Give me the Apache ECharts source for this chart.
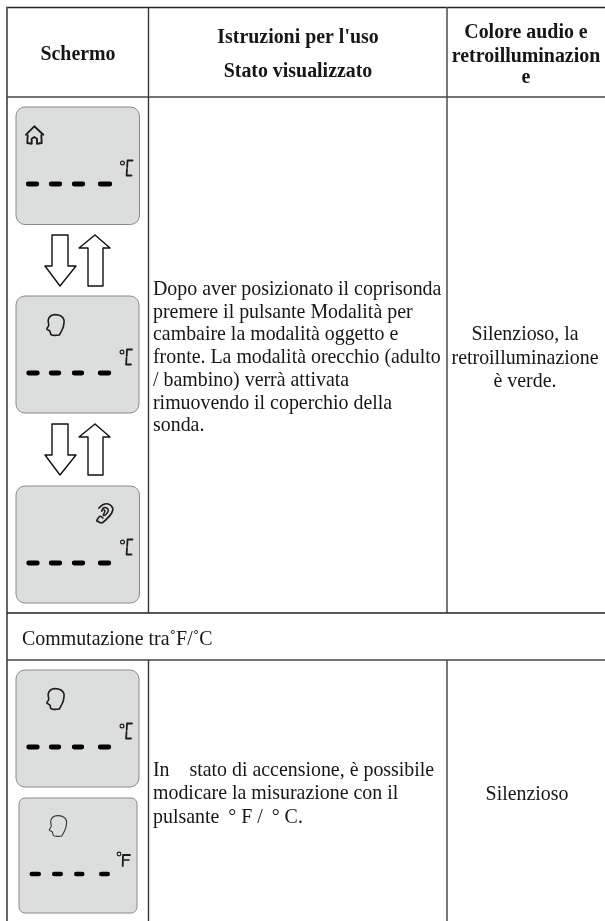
<!DOCTYPE html>
<html><head><meta charset="utf-8">
<style>html,body{margin:0;padding:0;background:#fff}#c{width:605px;height:921px}</style>
<script src="https://cdn.jsdelivr.net/npm/echarts@6/dist/echarts.min.js"></script>
</head><body><div id="c"></div>
<script>
const headerFirst = ['Schermo'];
const headerSecond = ["Istruzioni per l'uso", 'Stato visualizzato'];
const headerThird = ['Colore audio e', 'retroilluminazion', 'e'];
const instructionLines = ['Dopo aver posizionato il coprisonda','premere il pulsante Modalità per','cambaire la modalità oggetto e','fronte. La modalità orecchio (adulto','/ bambino) verrà attivata','rimuovendo il coperchio della','sonda.'];
const audioLines = ['Silenzioso, la','retroilluminazione','è verde.'];
const sectionTitle = ['Commutazione tra˚F/˚C'];
const switchLines = ['In    stato di accensione, è possibile','modicare la misurazione con il','pulsante \u2009° F / \u2009° C.'];
const switchAudio = ['Silenzioso'];

const FONT = '"Liberation Serif","Times New Roman",serif';
const els = [];
const ink = '#1c1c1c';
const SIZE = 19.9;
const TEXT_DY = 1.6;
function line(x1,y1,x2,y2,w,c){els.push({type:'line',shape:{x1,y1,x2,y2},style:{stroke:c||'#2a2a2a',lineWidth:w||1.5}});}
function text(s,x,y,o){o=o||{};els.push({type:'text',x,y:y+TEXT_DY,style:{text:s,font:(o.bold?'bold ':'')+(o.size||SIZE)+'px '+FONT,fill:'#161616',textAlign:o.align||'left',textVerticalAlign:'middle',verticalAlign:'middle'}});}
function poly(points,w,c,smooth,fill){els.push({type:'polyline',shape:{points,smooth:smooth||0},style:{stroke:c||ink,lineWidth:w||1.3,fill:fill||'none',lineJoin:'round',lineCap:'round'}});}

// table rules
line(6,7.5,605,7.5,1.4,'#222');
line(7,7,7,921,1.8,'#555');
line(148.5,7,148.5,613,1.4,'#333');
line(447,7,447,613,1.6,'#555');
line(148.5,660,148.5,921,1.4,'#333');
line(447,660,447,921,1.6,'#555');
line(7,97,605,97,1.5,'#444');
line(7,613,605,613,1.5,'#222');
line(7,660,605,660,1.5,'#444');

function dashes(px,py,xs,w){xs.forEach(a=>{els.push({type:'line',shape:{x1:px+a[0]+2.2,y1:py,x2:px+a[1]-2.2,y2:py},style:{stroke:'#000',lineWidth:w||4.8,lineCap:'round'}});});}
function panel(x,y,w,h,r){
  els.push({type:'rect',shape:{x,y,width:w,height:h,r},style:{fill:'#dcdddd',stroke:'#8a8a8a',lineWidth:1}});
}
function degC(x,y){ // x,y = panel origin
  els.push({type:'circle',shape:{cx:x+106.5,cy:y+56,r:1.9},style:{fill:'none',stroke:ink,lineWidth:1.2}});
  poly([[x+116.5,y+53.5],[x+111.5,y+53.5],[x+111.2,y+60]],1.8);
  poly([[x+111,y+62],[x+110.6,y+68.5],[x+115.5,y+68.5]],1.8);
}
function head(dx,dy,c,w){
  const p=[[59.3,335],[62,330],[63.5,326],[64,320],[61,316],[55,314.6],[50.5,316],[48.2,320],[48.7,325.5],[46.8,329],[49.8,331],[51,334.6],[55,335.4],[59.3,335]];
  poly(p.map(a=>[a[0]+dx,a[1]+dy]),w||1.6,c||ink,0.3);
}
const R=9;
// panel 1
panel(16,107,123.5,117.5,R);
poly([[26,134.7],[34.3,126.3],[43.3,134.7]],1.9);
poly([[27.7,135.3],[27.3,143],[31.7,143.7],[31.7,138.7],[34.3,137],[37,138.7],[37,143.7],[41.7,143],[41.3,135.3]],1.9);
degC(16,107);
dashes(16,184,[[10,23],[33,46],[56,69],[82,96]]);
// panel 2
panel(16,296,123,117,R);
head(0,0);
degC(15.5,296);
dashes(16,373,[[10.5,23.5],[33,45],[56,68],[82,95]]);
// panel 3
panel(16,486,123.5,117,R);
poly([[96.7,520.7],[101.7,523],[106,519.7],[111.7,513],[112.7,508],[108.3,504],[102.7,504.7],[99,508]],1.7,ink,0.3);
poly([[101.7,511.3],[103.3,508],[106.7,508],[108.3,510.7],[105.7,514.7],[103.3,515.3],[105,511],[104,510]],1.5,ink,0.3);
poly([[97,520],[100,516.3],[103,518]],1.5,ink,0.3);
degC(16,486);
dashes(16,563,[[10.5,23.5],[33,46],[56,69],[82,95]]);
// panel 4
panel(16,670,123,117,R);
head(0,374);
degC(15.5,670);
dashes(16,747,[[10.5,23.5],[33,45],[56,68],[82,95]]);
// panel 5
panel(19,798,118,115,6);
head(2.5,501,'#333',1.1);
els.push({type:'circle',shape:{cx:119,cy:854,r:1.9},style:{fill:'none',stroke:ink,lineWidth:1.1}});
poly([[130,855],[123,855],[122.7,866]],1.8);
poly([[123,860],[129,860]],1.6);
dashes(19,874,[[10.5,22],[33,44],[55,65.5],[80,91]],4.4);

// arrows
function down(y){poly([[52,y],[68,y],[68,y+31],[76,y+31],[60,y+51],[45,y+31],[52,y+31],[52,y]],1.4,'#111',0,'#fff');}
function up(y){poly([[95,y],[110,y+13],[103,y+13],[103,y+51],[88,y+51],[88,y+13],[79,y+13],[95,y]],1.4,'#111',0,'#fff');}
down(235);up(235);down(424);up(424);

// text
text(headerFirst[0],78,53,{bold:true,align:'center'});
[36,70].forEach((y,i)=>text(headerSecond[i],298,y,{bold:true,align:'center'}));
[31,55,76].forEach((y,i)=>text(headerThird[i],526,y,{bold:true,align:'center'}));
[288,311,333.5,356,379,402,424].forEach((y,i)=>text(instructionLines[i],153,y));
[333,357,380].forEach((y,i)=>text(audioLines[i],525,y,{align:'center'}));
text(sectionTitle[0],22,638);
[769,792,816].forEach((y,i)=>text(switchLines[i],153,y));
text(switchAudio[0],527,793,{align:'center'});

const chart = echarts.init(document.getElementById('c'),null,{renderer:'canvas'});
chart.setOption({animation:false,backgroundColor:'#fff',graphic:{elements:els}});
</script></body></html>
